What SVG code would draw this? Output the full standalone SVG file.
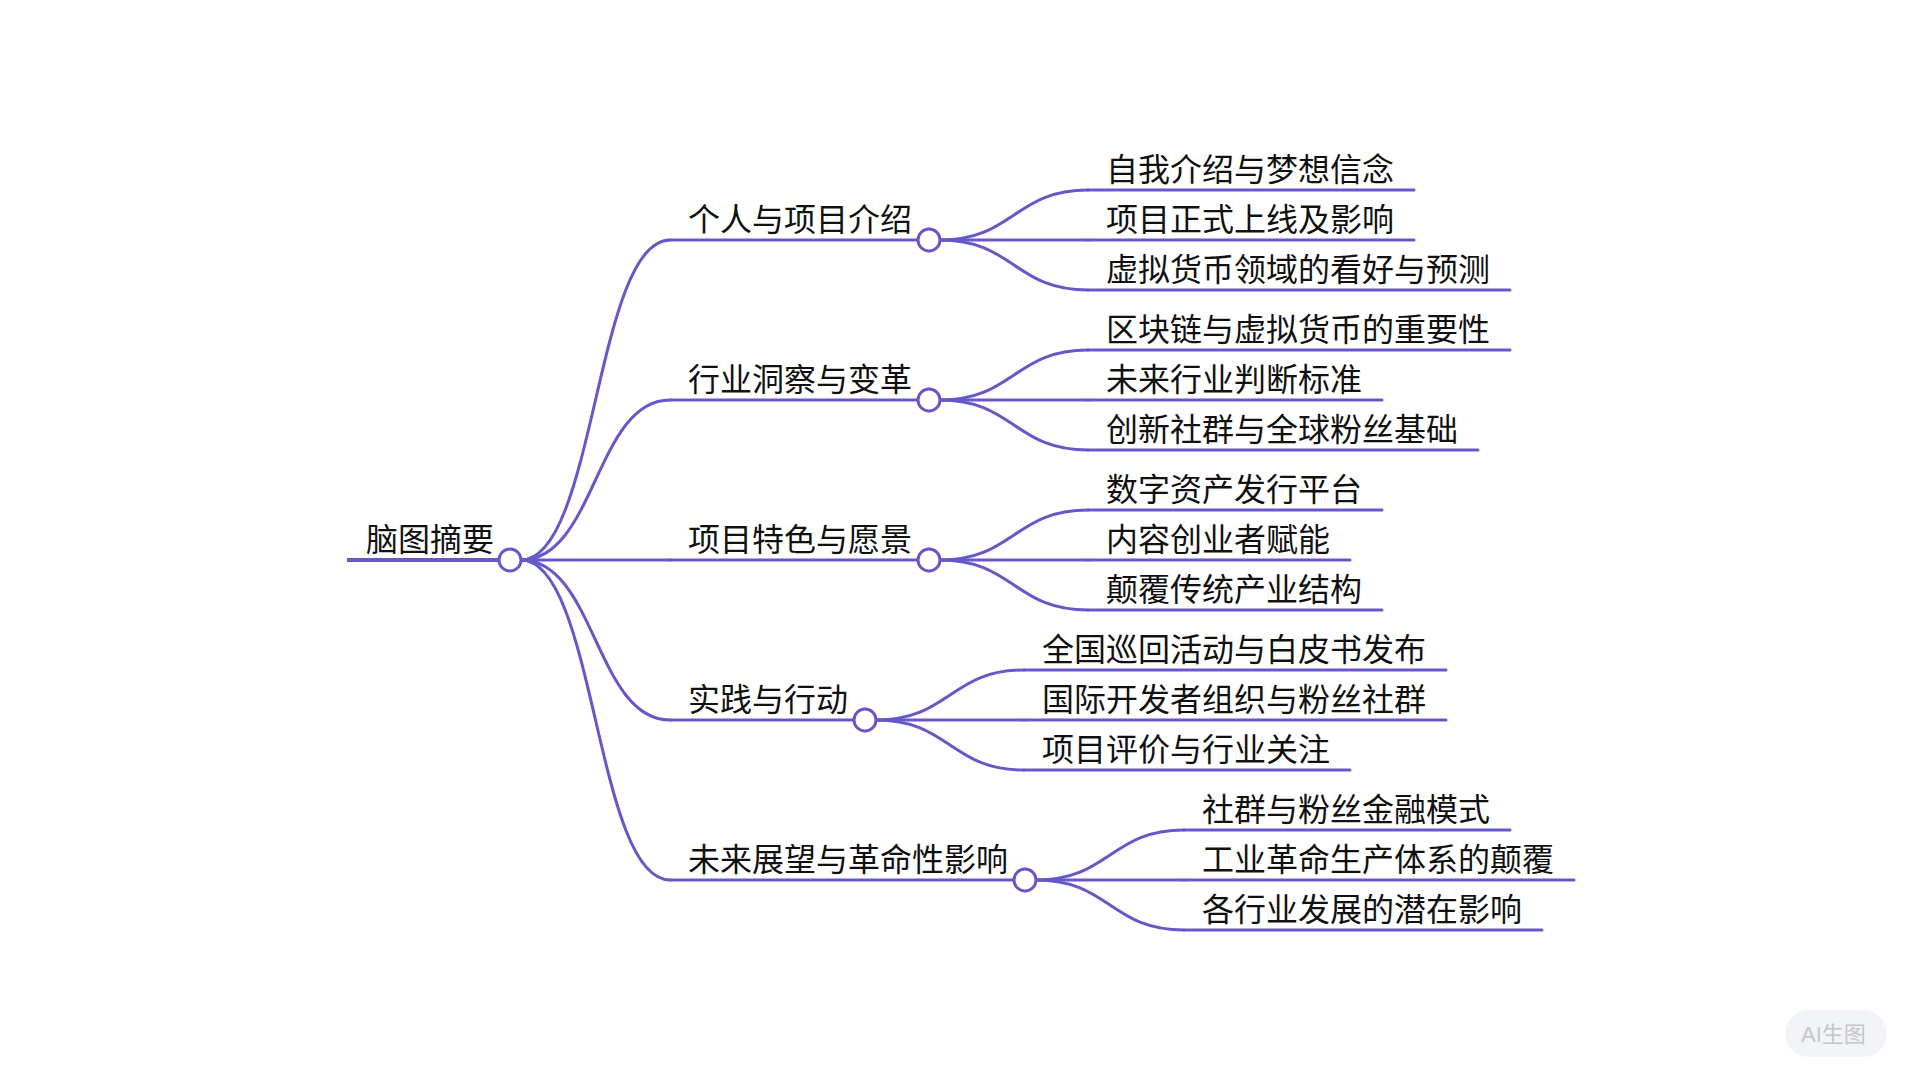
<svg xmlns="http://www.w3.org/2000/svg" width="1920" height="1080" viewBox="0 0 1920 1080">
<style>
.t{font-family:"Noto Sans CJK SC","Noto Sans",sans-serif;font-size:32px;fill:#111}
.ln{stroke:#6658c9;stroke-width:3;fill:none;stroke-linecap:round}
.rl{stroke:#6658c9;stroke-width:4;fill:none}
.c{fill:#fff;stroke:#6658c9;stroke-width:3}
.wm{font-family:"Liberation Sans","Noto Sans CJK SC",sans-serif;font-size:22px;fill:#c4c6cc}
</style>
<rect width="1920" height="1080" fill="#fff"/>
<g id="connectors" class="ln">
<path d="M521,560 C595.5,560 595.5,240 670,240"/>
<path d="M521,560 C595.5,560 595.5,400 670,400"/>
<path d="M521,560 H670"/>
<path d="M521,560 C595.5,560 595.5,720 670,720"/>
<path d="M521,560 C595.5,560 595.5,880 670,880"/>
<path d="M940,240 C1014,240 1014,190 1088,190"/>
<path d="M940,240 H1088"/>
<path d="M940,240 C1014,240 1014,290 1088,290"/>
<path d="M940,400 C1014,400 1014,350 1088,350"/>
<path d="M940,400 H1088"/>
<path d="M940,400 C1014,400 1014,450 1088,450"/>
<path d="M940,560 C1014,560 1014,510 1088,510"/>
<path d="M940,560 H1088"/>
<path d="M940,560 C1014,560 1014,610 1088,610"/>
<path d="M876,720 C950,720 950,670 1024,670"/>
<path d="M876,720 H1024"/>
<path d="M876,720 C950,720 950,770 1024,770"/>
<path d="M1036,880 C1110,880 1110,830 1184,830"/>
<path d="M1036,880 H1184"/>
<path d="M1036,880 C1110,880 1110,930 1184,930"/>
</g>
<g id="root">
<line class="rl" x1="347" y1="560" x2="499" y2="560"/>
<text class="t" x="366" y="551">脑图摘要</text>
<circle class="c" cx="510" cy="560" r="11"/>
</g>
<g id="n1">
<line class="ln" x1="670" y1="240" x2="918" y2="240"/>
<text class="t" x="688" y="231">个人与项目介绍</text>
<circle class="c" cx="929" cy="240" r="11"/>
</g>
<g id="n2">
<line class="ln" x1="670" y1="400" x2="918" y2="400"/>
<text class="t" x="688" y="391">行业洞察与变革</text>
<circle class="c" cx="929" cy="400" r="11"/>
</g>
<g id="n3">
<line class="ln" x1="670" y1="560" x2="918" y2="560"/>
<text class="t" x="688" y="551">项目特色与愿景</text>
<circle class="c" cx="929" cy="560" r="11"/>
</g>
<g id="n4">
<line class="ln" x1="670" y1="720" x2="854" y2="720"/>
<text class="t" x="688" y="711">实践与行动</text>
<circle class="c" cx="865" cy="720" r="11"/>
</g>
<g id="n5">
<line class="ln" x1="670" y1="880" x2="1014" y2="880"/>
<text class="t" x="688" y="871">未来展望与革命性影响</text>
<circle class="c" cx="1025" cy="880" r="11"/>
</g>
<g id="n1-1"><line class="ln" x1="1088" y1="190" x2="1414" y2="190"/><text class="t" x="1106" y="181">自我介绍与梦想信念</text></g>
<g id="n1-2"><line class="ln" x1="1088" y1="240" x2="1414" y2="240"/><text class="t" x="1106" y="231">项目正式上线及影响</text></g>
<g id="n1-3"><line class="ln" x1="1088" y1="290" x2="1510" y2="290"/><text class="t" x="1106" y="281">虚拟货币领域的看好与预测</text></g>
<g id="n2-1"><line class="ln" x1="1088" y1="350" x2="1510" y2="350"/><text class="t" x="1106" y="341">区块链与虚拟货币的重要性</text></g>
<g id="n2-2"><line class="ln" x1="1088" y1="400" x2="1382" y2="400"/><text class="t" x="1106" y="391">未来行业判断标准</text></g>
<g id="n2-3"><line class="ln" x1="1088" y1="450" x2="1478" y2="450"/><text class="t" x="1106" y="441">创新社群与全球粉丝基础</text></g>
<g id="n3-1"><line class="ln" x1="1088" y1="510" x2="1382" y2="510"/><text class="t" x="1106" y="501">数字资产发行平台</text></g>
<g id="n3-2"><line class="ln" x1="1088" y1="560" x2="1350" y2="560"/><text class="t" x="1106" y="551">内容创业者赋能</text></g>
<g id="n3-3"><line class="ln" x1="1088" y1="610" x2="1382" y2="610"/><text class="t" x="1106" y="601">颠覆传统产业结构</text></g>
<g id="n4-1"><line class="ln" x1="1024" y1="670" x2="1446" y2="670"/><text class="t" x="1042" y="661">全国巡回活动与白皮书发布</text></g>
<g id="n4-2"><line class="ln" x1="1024" y1="720" x2="1446" y2="720"/><text class="t" x="1042" y="711">国际开发者组织与粉丝社群</text></g>
<g id="n4-3"><line class="ln" x1="1024" y1="770" x2="1350" y2="770"/><text class="t" x="1042" y="761">项目评价与行业关注</text></g>
<g id="n5-1"><line class="ln" x1="1184" y1="830" x2="1510" y2="830"/><text class="t" x="1202" y="821">社群与粉丝金融模式</text></g>
<g id="n5-2"><line class="ln" x1="1184" y1="880" x2="1574" y2="880"/><text class="t" x="1202" y="871">工业革命生产体系的颠覆</text></g>
<g id="n5-3"><line class="ln" x1="1184" y1="930" x2="1542" y2="930"/><text class="t" x="1202" y="921">各行业发展的潜在影响</text></g>
<g id="watermark">
<rect x="1785" y="1010" width="102" height="47" rx="23.5" fill="#f3f4f7"/>
<text class="wm" x="1801" y="1042">AI生图</text>
</g>
</svg>
